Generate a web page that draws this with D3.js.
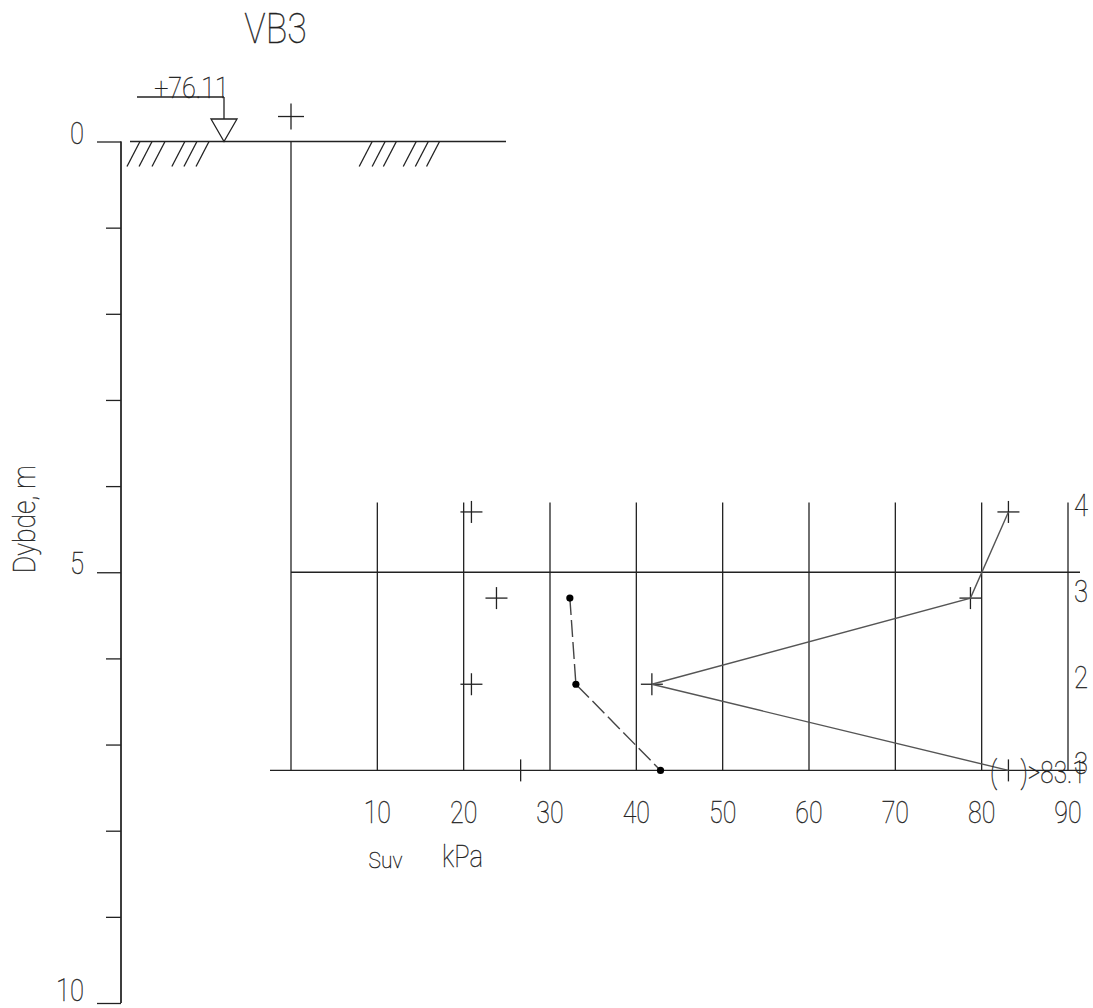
<!DOCTYPE html>
<html><head><meta charset="utf-8">
<script src="https://cdn.jsdelivr.net/npm/d3@7/dist/d3.min.js"></script>
<style>html,body{margin:0;background:#fff}svg{display:block}
text{font-family:Roboto,Lato,sans-serif;font-weight:100;fill:#222;stroke:#222;stroke-width:.35}</style></head><body>
<script>
const kpaTicks=[10,20,30,40,50,60,70,80,90];
const depthMinor=[1,2,3,4,6,7,8,9];
const depthMajor=[0,5,10];
const testDepths=[4.3,5.3,6.3,7.3];
const testLabels=["4","3","2","3"];
const remoulded=[20.9,23.8,20.9,26.6];
const undisturbed=[83.1,78.7,41.8,83.1];
const suvDepths=[5.3,6.3,7.3];
const suvValues=[32.3,33,42.8];
const hatchLeft=[-19,-17.6,-16.1,-13.8,-12.4,-11];
const hatchRight=[7.9,9.4,10.7,13,14.4,15.7];
const plotTopDepth=4.19, plotBottomDepth=7.3;

const W=1093,H=1008,ink="#222";
const x=d3.scaleLinear().domain([0,90]).range([291,1068]);
const y=d3.scaleLinear().domain([0,10]).range([141.5,1003]);
const svg=d3.select("body").append("svg").attr("width",W).attr("height",H);
const g=svg.append("g").attr("fill","none").attr("stroke",ink).attr("stroke-width",1.3);
const line=(x1,y1,x2,y2,p=g)=>p.append("line").attr("x1",x1).attr("y1",y1).attr("x2",x2).attr("y2",y2);
const label=(s,px,py,size,sx=.78,anchor="middle",rot=0)=>svg.append("text").text(s)
  .attr("text-anchor",anchor).attr("font-size",size)
  .attr("transform",`translate(${px},${py}) rotate(${rot}) scale(${sx},1)`);

// depth axis
const major=d3.axisLeft(y).tickValues(depthMajor).tickSize(24).tickFormat("");
const minor=d3.axisLeft(y).tickValues(depthMinor).tickSize(15).tickFormat("");
[major,minor].forEach(a=>{
  const s=g.append("g").attr("transform","translate(121,0)").call(a);
  s.selectAll("path").attr("d",`M0,${y(0)}V${y(10)}`).attr("stroke",ink);
  s.selectAll("line").attr("stroke",ink);
});
depthMajor.forEach(d=>label(d,84,d==10?y(d)-2:y(d)+2,32,.8,"end"));
label("Dybde, m",35,y(5)+1,31,.86,"start",-90);

// ground and borehole lines
line(130,y(0),506,y(0));
line(x(0),y(0),x(0),y(plotBottomDepth));
line(x(0),y(5),1080,y(5));
line(270,y(plotBottomDepth),1085,y(plotBottomDepth));
[...hatchLeft,...hatchRight].forEach(v=>line(x(v),y(0)+25,x(v)+13,y(0)));

// level marker
line(137,97,224,97); line(224,97,224,119);
g.append("path").attr("d",d3.line()([[211,119],[237,119],[224,y(0)]])+"Z");
label("+76.11",191.5,98,30,.84);
label("VB3",275.5,43,43,.83);

// grid
kpaTicks.forEach(v=>{
  line(x(v),y(plotTopDepth),x(v),y(plotBottomDepth));
  label(v,x(v),823,32,.78);
});
label("Suv",385.5,868,22,.95);
label("kPa",462.5,867,32,.8);

// crosses
const cross=(v,d,a=13)=>{line(x(v)-a,y(d),x(v)+a,y(d));line(x(v),y(d)-a,x(v),y(d)+a);};
cross(0,-0.29);
remoulded.slice(0,3).forEach((v,i)=>cross(v,testDepths[i],11));
line(x(remoulded[3]),y(7.3)-11,x(remoulded[3]),y(7.3)+11);
undisturbed.slice(0,3).forEach((v,i)=>cross(v,testDepths[i],11));
line(x(undisturbed[3]),y(7.3)-11,x(undisturbed[3]),y(7.3)+11);

// undisturbed line
g.append("path").attr("stroke","#555").attr("stroke-width",1.4)
 .attr("d",d3.line().x(d=>x(d[0])).y(d=>y(d[1]))(undisturbed.map((v,i)=>[v,testDepths[i]])));
// suv line
const pts=suvValues.map((v,i)=>[v,suvDepths[i]]);
g.append("path").attr("stroke","#444").attr("stroke-width",1.4).attr("stroke-dasharray","17 5")
 .attr("d",d3.line().x(d=>x(d[0])).y(d=>y(d[1]))(pts));
svg.selectAll("circle.p").data(pts).join("circle").attr("r",3.6).attr("fill","#000")
 .attr("cx",d=>x(d[0])).attr("cy",d=>y(d[1]));

// right labels
testLabels.forEach((t,i)=>label(t,1081,y(testDepths[i])+4,32,.8));
label("(\u00a0\u00a0\u00a0\u00a0)>83.1",990,783,32,.76,"start");
</script></body></html>
